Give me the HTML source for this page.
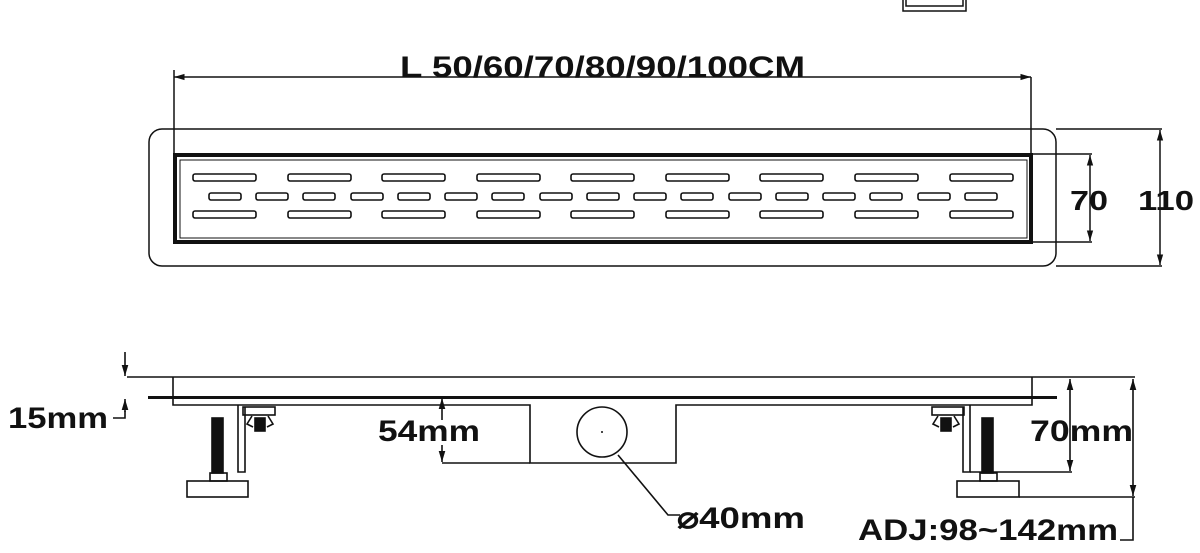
<!DOCTYPE html>
<html><head><meta charset="utf-8"><style>
html,body{margin:0;padding:0;background:#fff;}
svg{display:block;}
text{font-family:"Liberation Sans",sans-serif;font-weight:bold;fill:#111;}
</style></head><body>
<svg width="1200" height="553" viewBox="0 0 1200 553" xmlns="http://www.w3.org/2000/svg">
<defs>
<marker id="a" viewBox="0 0 10 10" refX="10" refY="5" markerWidth="7" markerHeight="7" orient="auto-start-reverse"><path d="M0,2 L10,5 L0,8 z" fill="#111"/></marker>
</defs>
<g stroke="#111" fill="none" stroke-width="1.5">
<!-- top fragment -->
<path d="M903,0 V11 H966 V0"/>
<path d="M906,0 V6 H963 V0"/>
<!-- top view -->
<rect x="149" y="129" width="907" height="137" rx="13"/>
<rect x="175" y="155" width="856" height="87" stroke-width="4"/>
<rect x="180" y="160" width="847" height="78" stroke-width="1"/>
<!-- L dim -->
<line x1="174" y1="77" x2="1031" y2="77" marker-start="url(#a)" marker-end="url(#a)"/>
<line x1="174" y1="70" x2="174" y2="155"/>
<line x1="1031" y1="77" x2="1031" y2="155"/>
<!-- 70 dim -->
<line x1="1031" y1="154" x2="1092" y2="154"/>
<line x1="1031" y1="242" x2="1092" y2="242"/>
<line x1="1090" y1="155" x2="1090" y2="241" marker-start="url(#a)" marker-end="url(#a)"/>
<!-- 110 dim -->
<line x1="1056" y1="129" x2="1162" y2="129"/>
<line x1="1056" y1="266" x2="1162" y2="266"/>
<line x1="1160" y1="130" x2="1160" y2="265" marker-start="url(#a)" marker-end="url(#a)"/>
</g>
<g stroke="#111" fill="none" stroke-width="1.6">
<rect x="193" y="174" width="63" height="7" rx="2"/><rect x="193" y="211" width="63" height="7" rx="2"/>
<rect x="288" y="174" width="63" height="7" rx="2"/><rect x="288" y="211" width="63" height="7" rx="2"/>
<rect x="382" y="174" width="63" height="7" rx="2"/><rect x="382" y="211" width="63" height="7" rx="2"/>
<rect x="477" y="174" width="63" height="7" rx="2"/><rect x="477" y="211" width="63" height="7" rx="2"/>
<rect x="571" y="174" width="63" height="7" rx="2"/><rect x="571" y="211" width="63" height="7" rx="2"/>
<rect x="666" y="174" width="63" height="7" rx="2"/><rect x="666" y="211" width="63" height="7" rx="2"/>
<rect x="760" y="174" width="63" height="7" rx="2"/><rect x="760" y="211" width="63" height="7" rx="2"/>
<rect x="855" y="174" width="63" height="7" rx="2"/><rect x="855" y="211" width="63" height="7" rx="2"/>
<rect x="950" y="174" width="63" height="7" rx="2"/><rect x="950" y="211" width="63" height="7" rx="2"/>
<rect x="209" y="193" width="32" height="7" rx="2"/><rect x="256" y="193" width="32" height="7" rx="2"/>
<rect x="303" y="193" width="32" height="7" rx="2"/><rect x="351" y="193" width="32" height="7" rx="2"/>
<rect x="398" y="193" width="32" height="7" rx="2"/><rect x="445" y="193" width="32" height="7" rx="2"/>
<rect x="492" y="193" width="32" height="7" rx="2"/><rect x="540" y="193" width="32" height="7" rx="2"/>
<rect x="587" y="193" width="32" height="7" rx="2"/><rect x="634" y="193" width="32" height="7" rx="2"/>
<rect x="681" y="193" width="32" height="7" rx="2"/><rect x="729" y="193" width="32" height="7" rx="2"/>
<rect x="776" y="193" width="32" height="7" rx="2"/><rect x="823" y="193" width="32" height="7" rx="2"/>
<rect x="870" y="193" width="32" height="7" rx="2"/><rect x="918" y="193" width="32" height="7" rx="2"/>
<rect x="965" y="193" width="32" height="7" rx="2"/>
</g>
<text x="400" y="77" font-size="30" textLength="405" lengthAdjust="spacingAndGlyphs">L 50/60/70/80/90/100CM</text>
<text x="1070" y="210" font-size="28" textLength="38" lengthAdjust="spacingAndGlyphs">70</text>
<text x="1138" y="210" font-size="28" textLength="56" lengthAdjust="spacingAndGlyphs">110</text>

<!-- side view -->
<g stroke="#111" fill="none" stroke-width="1.6">
<line x1="127" y1="377" x2="1135" y2="377"/>
<line x1="148" y1="397.5" x2="1057" y2="397.5" stroke-width="3"/>
<path d="M173,377 V405 H530 V463 H676 V405 H1032 V377"/>
<!-- 15mm -->
<line x1="125" y1="352" x2="125" y2="376" marker-end="url(#a)"/>
<line x1="125" y1="412" x2="125" y2="399" marker-end="url(#a)"/>
<path d="M125,411 V418 H113"/>
<!-- 54mm -->
<line x1="442" y1="420" x2="442" y2="398" marker-end="url(#a)"/>
<line x1="442" y1="445" x2="442" y2="462" marker-end="url(#a)"/>
<line x1="442" y1="463" x2="530" y2="463"/>
<!-- drain -->
<circle cx="602" cy="432" r="25"/>
<path d="M618,455 L668,515 H680"/>
<!-- left leg -->
<rect x="243" y="407" width="32" height="8"/>
<path d="M238,405 V472 H245 V407"/>
<rect x="212" y="418" width="11" height="55" fill="#111"/>
<rect x="210" y="473" width="17" height="8"/>
<rect x="187" y="481" width="61" height="16"/>
<path d="M252,416 l-5,8 l6,3 M268,416 l5,8 l-6,3"/>
<rect x="255" y="418" width="10" height="13" fill="#111"/>
<!-- right leg -->
<rect x="932" y="407" width="32" height="8"/>
<path d="M970,405 V472 H963 V407"/>
<rect x="982" y="418" width="11" height="55" fill="#111"/>
<rect x="980" y="473" width="17" height="8"/>
<rect x="957" y="481" width="62" height="16"/>
<path d="M938,416 l-5,8 l6,3 M954,416 l5,8 l-6,3"/>
<rect x="941" y="418" width="10" height="13" fill="#111"/>
<!-- 70mm -->
<line x1="970" y1="472" x2="1072" y2="472"/>
<line x1="1070" y1="379" x2="1070" y2="471" marker-start="url(#a)" marker-end="url(#a)"/>
<!-- ADJ -->
<line x1="1019" y1="497" x2="1135" y2="497"/>
<line x1="1133" y1="379" x2="1133" y2="496" marker-start="url(#a)" marker-end="url(#a)"/>
<path d="M1133,497 V540 H1120"/>
</g>
<circle cx="602" cy="432" r="1" fill="#111"/>
<text x="8" y="428" font-size="30" textLength="100" lengthAdjust="spacingAndGlyphs">15mm</text>
<text x="378" y="441" font-size="30" textLength="102" lengthAdjust="spacingAndGlyphs">54mm</text>
<text x="1030" y="441" font-size="30" textLength="103" lengthAdjust="spacingAndGlyphs">70mm</text>
<text x="677" y="528" font-size="30" textLength="128" lengthAdjust="spacingAndGlyphs">⌀40mm</text>
<text x="858" y="540" font-size="30" textLength="260" lengthAdjust="spacingAndGlyphs">ADJ:98~142mm</text>
</svg>
</body></html>
